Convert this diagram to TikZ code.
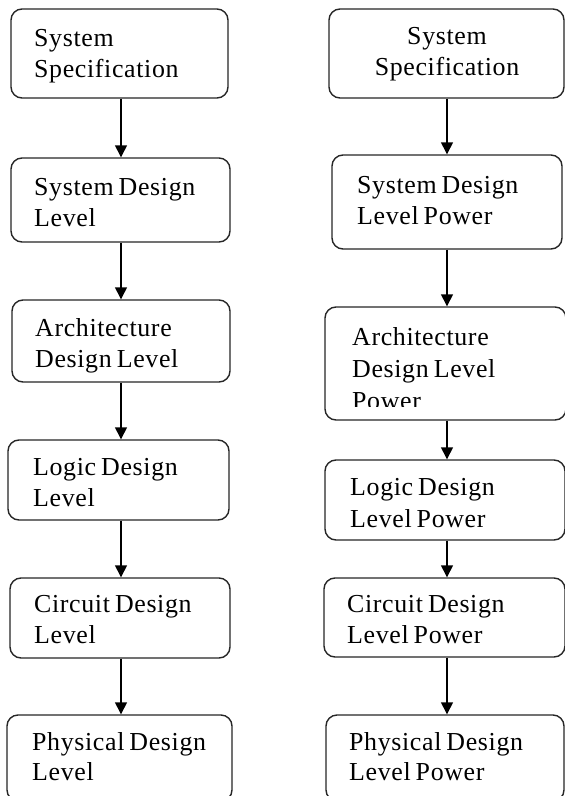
\documentclass[tikz,border=0pt]{standalone}
\usepackage{fontspec}
\setmainfont{Liberation Serif}[LetterSpace=2.5,WordSpace=0.7]
\usetikzlibrary{arrows.meta}
\tikzset{
  box/.style={draw=black!85, line width=1.4bp, rounded corners=11bp, inner sep=0pt, fill=white},
  lbl/.style={anchor=base west, inner sep=0pt, font=\fontsize{26}{31}\selectfont},
  clbl/.style={anchor=base, inner sep=0pt, font=\fontsize{26}{31}\selectfont},
  arr/.style={line width=1.4bp, -{Triangle[length=12bp,width=12bp]}},
}
\begin{document}
\begin{tikzpicture}[x=1bp,y=-1bp]
\path[use as bounding box, clip] (0,0) rectangle (565,796);
% left column boxes
\node[box, minimum width=217bp, minimum height=89bp] (L1) at (119.5,53.5) {};
\node[box, minimum width=219bp, minimum height=84bp] (L2) at (120.5,200) {};
\node[box, minimum width=218bp, minimum height=82bp] (L3) at (121,341) {};
\node[box, minimum width=221bp, minimum height=80bp] (L4) at (118.5,480) {};
\node[box, minimum width=220bp, minimum height=80bp] (L5) at (120,618) {};
\node[box, minimum width=225bp, minimum height=86bp] (L6) at (119.5,758) {};
% right column boxes
\node[box, minimum width=235bp, minimum height=89bp] (R1) at (446.5,53.5) {};
\node[box, minimum width=230bp, minimum height=94bp] (R2) at (447,202) {};
\node[box, minimum width=241bp, minimum height=113bp] (R3) at (445.5,363.5) {};
\node[box, minimum width=240bp, minimum height=80bp] (R4) at (445,500) {};
\node[box, minimum width=241bp, minimum height=79bp] (R5) at (444.5,617.5) {};
\node[box, minimum width=238bp, minimum height=86bp] (R6) at (445,758) {};
% left texts
\node[lbl] (L1a) at (34,47) {System};
\node[lbl] (L1b) at (34,78) {Specification};
\node[lbl] (L2a) at (34,195) {System Design};
\node[lbl] (L2b) at (34,226) {Level};
\node[lbl] (L3a) at (35,336) {Architecture};
\node[lbl] (L3b) at (35,367) {Design Level};
\node[lbl] (L4a) at (33,475) {Logic Design};
\node[lbl] (L4b) at (33,506) {Level};
\node[lbl] (L5a) at (34,612) {Circuit Design};
\node[lbl] (L5b) at (34,643) {Level};
\node[lbl] (L6a) at (32,750) {Physical Design};
\node[lbl] (L6b) at (32,780) {Level};
% right texts
\node[clbl] (R1a) at (447,45) {System};
\node[clbl] (R1b) at (447,76) {Specification};
\node[lbl] (R2a) at (357,193) {System Design};
\node[lbl] (R2b) at (357,224) {Level Power};
\begin{scope}
\clip (320,320) rectangle (565,406);
\node[lbl] (R3a) at (352,345) {Architecture};
\node[lbl] (R3b) at (352,377) {Design Level};
\node[lbl] (R3c) at (352,409) {Power};
\end{scope}
\node[lbl] (R4a) at (350,495) {Logic Design};
\node[lbl] (R4b) at (350,527) {Level Power};
\node[lbl] (R5a) at (347,612) {Circuit Design};
\node[lbl] (R5b) at (347,643) {Level Power};
\node[lbl] (R6a) at (349,750) {Physical Design};
\node[lbl] (R6b) at (349,780) {Level Power};
% arrows
\coordinate (lx) at (121,0);
\coordinate (rx) at (447,0);
\draw[arr] (lx |- L1.south) -- (lx |- L2.north);
\draw[arr] (lx |- L2.south) -- (lx |- L3.north);
\draw[arr] (lx |- L3.south) -- (lx |- L4.north);
\draw[arr] (lx |- L4.south) -- (lx |- L5.north);
\draw[arr] (lx |- L5.south) -- (lx |- L6.north);
\draw[arr] (rx |- R1.south) -- (rx |- R2.north);
\draw[arr] (rx |- R2.south) -- (rx |- R3.north);
\draw[arr] (rx |- R3.south) -- (rx |- R4.north);
\draw[arr] (rx |- R4.south) -- (rx |- R5.north);
\draw[arr] (rx |- R5.south) -- (rx |- R6.north);
\end{tikzpicture}
\end{document}
